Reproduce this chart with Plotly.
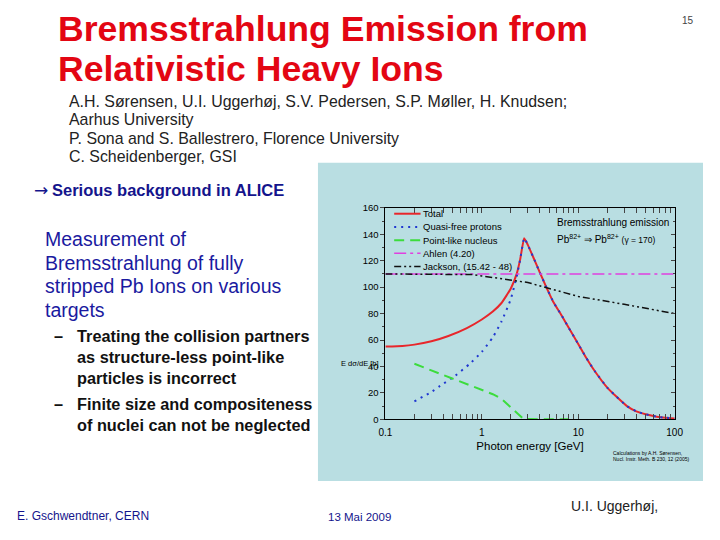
import plotly.graph_objects as go

# ---------------- data ----------------
energy_total = [0.1, 0.15, 0.2, 0.3, 0.45, 0.7, 1.0, 1.3, 1.6, 2.0, 2.3, 2.5, 2.75,
                3.0, 3.4, 4.0, 4.6, 5.5, 6.8, 8.0, 10, 12, 15, 20, 25, 32, 40, 50, 65, 80, 100]
total = [55, 55.5, 56.5, 59, 63, 69, 75.5, 81.5, 88, 99, 110, 121, 137,
         132, 123, 111, 101, 89, 78, 69, 57, 47, 36, 24, 17, 10, 6, 3.8, 2, 1.2, 0.7]

energy_qf = [0.2, 0.3, 0.36, 0.53, 0.75, 1.0, 1.3, 1.6, 2.0, 2.3, 2.5, 2.75,
             3.0, 3.4, 4.0, 4.6, 5.5, 6.8, 8.0, 10, 12, 15, 20, 25, 32, 40, 50, 65, 80, 100]
quasi_free = [13.6, 20.7, 24.7, 33, 42, 51, 62, 74, 91, 108, 121, 137,
              132, 123, 111, 101, 89, 78, 69, 57, 47, 36, 24, 17, 10, 6, 3.8, 2, 1.2, 0.7]

energy_pl = [0.2, 0.3, 0.5, 0.8, 1.0, 1.3, 1.6, 2.0, 2.4, 2.7, 4.0, 6.0, 8.0]
point_like = [42, 37, 31, 25, 22.5, 19, 15.5, 9, 3, 0.3, 0, 0, 0]

energy_ahlen = [0.1, 100]
ahlen = [110, 110]

energy_jackson = [0.1, 0.3, 0.8, 1.0, 2.0, 3.0, 5.0, 10, 30, 100]
jackson = [110, 110, 109.5, 108.5, 105.5, 103.5, 99, 93, 87, 80]

series_names = ["Total", "Quasi-free protons", "Point-like nucleus", "Ahlen (4.20)",
                "Jackson, (15.42 - 48)"]

x_tickvals = [0.1, 1, 10, 100]
x_ticktext = ["0.1", "1", "10", "100"]
y_tickvals = [0, 20, 40, 60, 80, 100, 120, 140, 160]

FONT = "Liberation Sans, Arial, sans-serif"
PANEL = "#B9DEE2"

# the page body keeps its default 8px margin, so the figure is 704x524 and
# screen positions are converted with these helpers
W, H, M = 704, 524, 8


def X(px):
    return (px - M) / W


def Y(py):
    return 1 - (py - M) / H


styles = [
    dict(color="#E8262B", width=2, dash="solid"),
    dict(color="#2038D0", width=2, dash="2px,5px"),
    dict(color="#3CDC3C", width=2, dash="10px,6px"),
    dict(color="#E040E0", width=1.5, dash="12px,4px,3px,4px"),
    dict(color="#111111", width=1.5, dash="7px,3px,2px,3px,2px,3px"),
]
xs = [energy_total, energy_qf, energy_pl, energy_ahlen, energy_jackson]
ys = [total, quasi_free, point_like, ahlen, jackson]

fig = go.Figure()
for name, x, y, st in zip(series_names, xs, ys, styles):
    line = dict(st)
    if name in ("Total", "Quasi-free protons"):
        line.update(shape="spline", smoothing=0.4)
    fig.add_trace(go.Scatter(x=x, y=y, mode="lines", name=name, line=line, showlegend=False))

# invisible trace to anchor the right-hand axis
fig.add_trace(go.Scatter(x=[0.1], y=[0], yaxis="y2", mode="markers", marker=dict(opacity=0),
                         showlegend=False, hoverinfo="skip"))

fig.update_layout(
    width=W, height=H,
    margin=dict(l=0, r=0, t=0, b=0),
    paper_bgcolor="white",
    plot_bgcolor=PANEL,
    font=dict(family=FONT, color="black"),
    showlegend=False,
    xaxis=dict(type="log", range=[-1, 2], domain=[X(387), X(683)],
               tickvals=x_tickvals, ticktext=x_ticktext, ticks="inside", ticklen=5,
               showline=True, linecolor="black", linewidth=1, mirror="allticks",
               showgrid=False, zeroline=False, tickfont=dict(size=10),
               ticklabelstandoff=4,
               minor=dict(ticks="inside", ticklen=3, tickvals=[0.2,0.3,0.4,0.5,0.6,0.7,0.8,0.9,
                                                               2,3,4,5,6,7,8,9,20,30,40,50,60,70,80,90]),
               title=dict(text="Photon energy [GeV]", font=dict(size=11.5), standoff=4)),
    yaxis=dict(range=[0, 160], domain=[Y(422), Y(206)],
               tickvals=y_tickvals, ticks="outside", ticklen=4,
               showline=True, linecolor="black", linewidth=1, mirror=True,
               showgrid=False, zeroline=False, tickfont=dict(size=9.5),
               minor=dict(ticks="outside", ticklen=2, dtick=10)),
    yaxis2=dict(range=[0, 160], overlaying="y", side="right", anchor="x",
                tickvals=y_tickvals, ticks="inside", ticklen=4, showticklabels=False,
                showline=False, showgrid=False, zeroline=False,
                minor=dict(ticks="inside", ticklen=2, dtick=10)),
)

# light-blue panel behind the chart
fig.add_shape(type="rect", xref="paper", yref="paper", x0=X(318), x1=1.0,
              y0=Y(485), y1=Y(160), fillcolor=PANEL, line=dict(width=0), layer="below")


def ann(text, px, py, size, color="black", bold=False, xanchor="left", family=FONT):
    if bold:
        text = "<b>" + text + "</b>"
    fig.add_annotation(text=text, x=X(px), y=Y(py), xref="paper", yref="paper",
                       xanchor=xanchor, yanchor="middle", showarrow=False,
                       font=dict(size=size, color=color, family=family))


# compact legend (key lines + labels) in the upper-left of the plot
for i, (name, st) in enumerate(zip(series_names, styles)):
    py = 212 + i * 13.5
    fig.add_shape(type="line", xref="paper", yref="paper", x0=X(396), x1=X(423),
                  y0=Y(py), y1=Y(py),
                  line=dict(color=st["color"], width=st["width"], dash=st["dash"]))
    ann(name, 423, py, 9.5)

# chart annotations
ann("Bremsstrahlung emission", 561, 221, 10)
ann("Pb<sup>82+</sup> ⇒ Pb<sup>82+</sup> <span style='font-size:8.5px'>(γ = 170)</span>", 561, 238, 10)
ann("E dσ/dE [b]", 340, 365, 7.5)
ann("Calculations by A.H. Sørensen,", 618, 456, 5)
ann("Nucl. Instr. Meth. B 230, 12 (2005)", 618, 463, 5)

# slide text
RED = "#E30613"
NAVY = "#14148C"
ann("Bremsstrahlung Emission from", 50, 23, 35.6, RED, bold=True)
ann("Relativistic Heavy Ions", 50, 64, 35.6, RED, bold=True)
ann("15", 697, 15, 10, "#444444", xanchor="center")
ann("A.H. Sørensen, U.I. Uggerhøj, S.V. Pedersen, S.P. Møller, H. Knudsen;", 61.5, 97, 15.9, "#222222")
ann("Aarhus University", 61.5, 116, 15.9, "#222222")
ann("P. Sona and S. Ballestrero, Florence University", 61.5, 135, 15.9, "#222222")
ann("C. Scheidenberger, GSI", 61.5, 154, 15.9, "#222222")
ann("→", 25, 188, 17, NAVY, family="DejaVu Sans")
ann("Serious background in ALICE", 44, 188, 16.5, NAVY, bold=True)
ann("Measurement of", 37, 238, 19.5, "#1A1AA0")
ann("Bremsstrahlung of fully", 37, 262, 19.5, "#1A1AA0")
ann("stripped Pb Ions on various", 37, 286, 19.5, "#1A1AA0")
ann("targets", 37, 310, 19.5, "#1A1AA0")
ann("–", 46, 337, 16.3, "#111111", bold=True)
ann("Treating the collision partners", 69, 337, 16.3, "#111111", bold=True)
ann("as structure-less point-like", 69, 358, 16.3, "#111111", bold=True)
ann("particles is incorrect", 69, 380, 16.3, "#111111", bold=True)
ann("–", 46, 406, 16.3, "#111111", bold=True)
ann("Finite size and compositeness", 69, 406, 16.3, "#111111", bold=True)
ann("of nuclei can not be neglected", 69, 428, 16.3, "#111111", bold=True)
ann("E. Gschwendtner, CERN", 8, 521, 12, NAVY)
ann("13 Mai 2009", 360, 522, 11.5, NAVY, xanchor="center")
ann("U.I. Uggerhøj,", 575, 511, 14, "#222222")

fig.write_html("out.html", config=dict(displayModeBar=False))
